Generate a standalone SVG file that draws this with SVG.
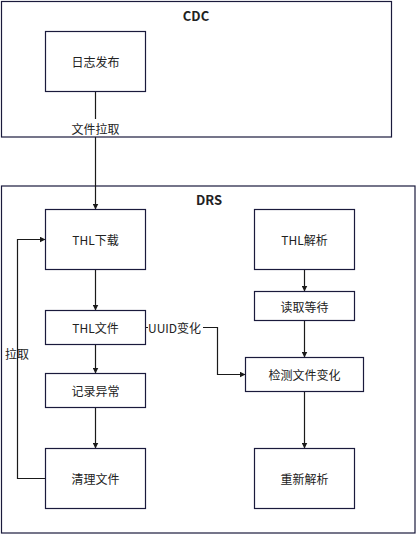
<svg xmlns="http://www.w3.org/2000/svg" width="416" height="534" viewBox="0 0 416 534">
<style>
.box{fill:#fff;stroke:#1a1a3c;stroke-width:1.2}
.c{fill:none;stroke:#1a1a1a;stroke-width:1.2}
text{font-family:"Noto Sans CJK SC","Liberation Sans",sans-serif;font-size:12px;fill:#222;dominant-baseline:central}
.t{font-weight:bold;font-size:13px;text-anchor:middle}
.m{text-anchor:middle}
</style>
<defs>
<marker id="ar" viewBox="0 0 10 10" refX="10" refY="5" markerWidth="6" markerHeight="6" markerUnits="userSpaceOnUse" orient="auto">
<path d="M0,0 L10,5 L0,10 Z" fill="#1a1a1a"/>
</marker>
</defs>
<g id="cdc"><rect class="box" x="1.5" y="1.5" width="390" height="135.5"/><text class="t" x="196" y="15">CDC</text></g>
<g id="drs"><rect class="box" x="1.5" y="186" width="413.5" height="347"/><text class="t" x="209" y="199">DRS</text></g>
<g id="connectors">
<path class="c" d="M95.5,91.5 V119"/>
<path class="c" d="M95.5,137 V209.5" marker-end="url(#ar)"/>
<path class="c" d="M95.5,269.5 V310.5" marker-end="url(#ar)"/>
<path class="c" d="M95.5,344.5 V373.5" marker-end="url(#ar)"/>
<path class="c" d="M95.5,407.5 V448.5" marker-end="url(#ar)"/>
<path class="c" d="M45.5,478.5 H17.5 V239.5 H45.5" marker-end="url(#ar)"/>
<path class="c" d="M304.5,269.5 V291.5" marker-end="url(#ar)"/>
<path class="c" d="M304.5,320.5 V357.5" marker-end="url(#ar)"/>
<path class="c" d="M304.5,391.5 V448.5" marker-end="url(#ar)"/>
<path class="c" d="M145.5,327.5 H148 M203,327.5 H217.5 V374.5 H245.5" marker-end="url(#ar)"/>
</g>
<text class="m" x="95.5" y="128">文件拉取</text>
<text x="5" y="353">拉取</text>
<text x="148" y="327.5">UUID变化</text>
<g id="n1"><rect class="box" x="45.5" y="31.5" width="100" height="60"/><text class="m" x="95.5" y="61.5">日志发布</text></g>
<g id="n2"><rect class="box" x="45.5" y="209.5" width="100" height="60"/><text class="m" x="95.5" y="239.5">THL下载</text></g>
<g id="n3"><rect class="box" x="45.5" y="310.5" width="100" height="34"/><text class="m" x="95.5" y="327.5">THL文件</text></g>
<g id="n4"><rect class="box" x="45.5" y="373.5" width="100" height="34"/><text class="m" x="95.5" y="390.5">记录异常</text></g>
<g id="n5"><rect class="box" x="45.5" y="448.5" width="100" height="60"/><text class="m" x="95.5" y="478.5">清理文件</text></g>
<g id="n6"><rect class="box" x="254.5" y="209.5" width="100" height="60"/><text class="m" x="304.5" y="239.5">THL解析</text></g>
<g id="n7"><rect class="box" x="254.5" y="291.5" width="100" height="29"/><text class="m" x="304.5" y="306">读取等待</text></g>
<g id="n8"><rect class="box" x="245.5" y="357.5" width="118" height="34"/><text class="m" x="304.5" y="374.5">检测文件变化</text></g>
<g id="n9"><rect class="box" x="254.5" y="448.5" width="100" height="60"/><text class="m" x="304.5" y="478.5">重新解析</text></g>
</svg>
